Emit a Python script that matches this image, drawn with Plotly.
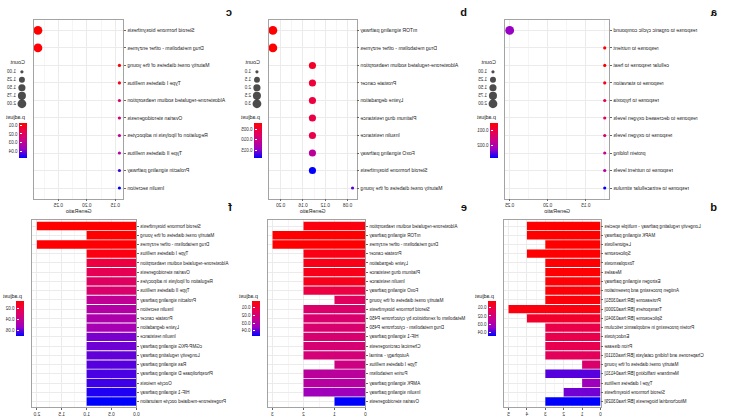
import plotly.graph_objects as go

W, H = 732, 417
FONT = "Liberation Sans, Arial, sans-serif"

# ---------------- data ----------------
a_terms = ["response to organic cyclic compound", "response to nutrient", "cellular response to heat",
           "response to starvation", "response to hypoxia", "response to decreased oxygen levels",
           "response to oxygen levels", "protein folding", "response to nutrient levels",
           "response to extracellular stimulus"]
a_ratio = [0.25, 0.125, 0.125, 0.125, 0.125, 0.125, 0.125, 0.125, 0.125, 0.125]
a_count = [2, 1, 1, 1, 1, 1, 1, 1, 1, 1]
a_padj = [0.00223, 0.0005, 0.0005, 0.0007, 0.00108, 0.0012, 0.00142, 0.00165, 0.00188, 0.0028]

b_terms = ["mTOR signaling pathway", "Drug metabolism - other enzymes",
           "Aldosterone-regulated sodium reabsorption", "Prostate cancer", "Lysine degradation",
           "Platinum drug resistance", "Insulin resistance", "FoxO signaling pathway",
           "Steroid hormone biosynthesis", "Maturity onset diabetes of the young"]
b_ratio = [0.214, 0.214, 0.143, 0.143, 0.143, 0.143, 0.143, 0.143, 0.143, 0.071]
b_count = [3, 3, 2, 2, 2, 2, 2, 2, 2, 1]
b_padj = [0.0020, 0.0020, 0.0040, 0.0050, 0.0053, 0.0056, 0.0060, 0.0115, 0.0185, 0.0160]

c_terms = ["Steroid hormone biosynthesis", "Drug metabolism - other enzymes",
           "Maturity onset diabetes of the young", "Type I diabetes mellitus",
           "Aldosterone-regulated sodium reabsorption", "Ovarian steroidogenesis",
           "Regulation of lipolysis in adipocytes", "Type II diabetes mellitus",
           "Prolactin signaling pathway", "Insulin secretion"]
c_ratio = [0.2857, 0.2857, 0.1429, 0.1429, 0.1429, 0.1429, 0.1429, 0.1429, 0.1429, 0.1429]
c_count = [2, 2, 1, 1, 1, 1, 1, 1, 1, 1]
c_padj = [0.0073, 0.0079, 0.0076, 0.0105, 0.0200, 0.0245, 0.0283, 0.0309, 0.0423, 0.0468]

d_terms = ["Longevity regulating pathway - multiple species", "MAPK signaling pathway",
           "Legionellosis", "Spliceosome", "Toxoplasmosis", "Measles",
           "Estrogen signaling pathway", "Antigen processing and presentation",
           "Proteasome [BR:hsa03051]", "Transporters [BR:hsa02000]",
           "Spliceosome [BR:hsa03041]", "Protein processing in endoplasmic reticulum",
           "Endocytosis", "Prion disease", "Chaperones and folding catalysts [BR:hsa03110]",
           "Maturity onset diabetes of the young", "Membrane trafficking [BR:hsa04131]",
           "Type I diabetes mellitus", "Steroid hormone biosynthesis",
           "Mitochondrial biogenesis [BR:hsa03029]"]
d_count = [4, 4, 3, 4, 3, 3, 3, 3, 3, 5, 4, 3, 3, 3, 3, 1, 3, 1, 2, 3]
d_padj = [0.0020, 0.0020, 0.0022, 0.0023, 0.0025, 0.0026, 0.0027, 0.0030, 0.0032, 0.0040,
          0.0080, 0.0120, 0.0125, 0.0130, 0.0150, 0.0180, 0.0390, 0.0330, 0.0370, 0.0450]

e_terms = ["Aldosterone-regulated sodium reabsorption", "mTOR signaling pathway",
           "Drug metabolism - other enzymes", "Prostate cancer", "Lysine degradation",
           "Platinum drug resistance", "Insulin resistance", "FoxO signaling pathway",
           "Maturity onset diabetes of the young", "Steroid hormone biosynthesis",
           "Metabolism of xenobiotics by cytochrome P450", "Drug metabolism - cytochrome P450",
           "HIF-1 signaling pathway", "Chemical carcinogenesis", "Autophagy - animal",
           "Type I diabetes mellitus", "Purine metabolism", "AMPK signaling pathway",
           "Insulin signaling pathway", "Ovarian steroidogenesis"]
e_count = [2, 3, 3, 2, 2, 2, 2, 2, 1, 2, 2, 2, 2, 2, 2, 1, 2, 2, 2, 1]
e_padj = [0.0040, 0.0020, 0.0020, 0.0050, 0.0053, 0.0056, 0.0060, 0.0115, 0.0160, 0.0185,
          0.0190, 0.0190, 0.0195, 0.0200, 0.0210, 0.0230, 0.0280, 0.0290, 0.0340, 0.0470]

f_terms = ["Steroid hormone biosynthesis", "Maturity onset diabetes of the young",
           "Drug metabolism - other enzymes", "Type I diabetes mellitus",
           "Aldosterone-regulated sodium reabsorption", "Ovarian steroidogenesis",
           "Regulation of lipolysis in adipocytes", "Type II diabetes mellitus",
           "Prolactin signaling pathway", "Insulin secretion", "Prostate cancer",
           "Lysine degradation", "Insulin resistance", "cGMP-PKG signaling pathway",
           "Longevity regulating pathway", "Ras signaling pathway",
           "Phospholipase D signaling pathway", "Oocyte meiosis", "HIF-1 signaling pathway",
           "Progesterone-mediated oocyte maturation"]
f_count = [2, 1, 2, 1, 1, 1, 1, 1, 1, 1, 1, 1, 1, 1, 1, 1, 1, 1, 1, 1]
f_padj = [0.0073, 0.0076, 0.0079, 0.0105, 0.0200, 0.0245, 0.0283, 0.0309, 0.0423, 0.0468,
          0.0487, 0.0506, 0.0583, 0.0595, 0.0608, 0.0621, 0.0634, 0.0646, 0.0678, 0.0710]

# colourbar ticks (value, label)
a_cb_vals, a_cb_text = [0.001, 0.002], ["0.001", "0.002"]
b_cb_vals, b_cb_text = [0.005, 0.010, 0.015], ["0.005", "0.010", "0.015"]
c_cb_vals, c_cb_text = [0.01, 0.02, 0.03, 0.04], ["0.01", "0.02", "0.03", "0.04"]
d_cb_vals, d_cb_text = [0.01, 0.02, 0.03, 0.04], ["0.01", "0.02", "0.03", "0.04"]
e_cb_vals, e_cb_text = [0.01, 0.02, 0.03, 0.04], ["0.01", "0.02", "0.03", "0.04"]
f_cb_vals, f_cb_text = [0.02, 0.04, 0.06], ["0.02", "0.04", "0.06"]

# size-legend breaks
ac_size_breaks = [1.00, 1.25, 1.50, 1.75, 2.00]
ac_size_text = ["1.00", "1.25", "1.50", "1.75", "2.00"]
b_size_breaks = [1.0, 1.5, 2.0, 2.5, 3.0]
b_size_text = ["1.0", "1.5", "2.0", "2.5", "3.0"]

panel_letters = ["a", "b", "c", "d", "e", "f"]

# ---------------- styling ----------------
RB = [[0.0, "#0000FF"], [0.25, "#9900C2"], [0.5, "#C90089"], [0.75, "#E8004F"], [1.0, "#FF0000"]]
SMIN, SMAX = 3.2, 8.8


def dom_x(l, r):
    return [max(0, l / W), min(1, r / W)]


def dom_y(t, b):
    return [1 - b / H, 1 - t / H]


def size_of(v, lo, hi):
    return SMIN + ((v - lo) / (hi - lo)) ** 0.5 * (SMAX - SMIN)


axis_common = dict(showline=True, mirror=True, linecolor="#a3a3a3", linewidth=0.8,
                   ticks="outside", ticklen=2, tickwidth=0.6, tickcolor="#666",
                   showgrid=True, gridcolor="#ebebeb", gridwidth=0.6, zeroline=False,
                   tickfont=dict(size=4.8, color="#333", family=FONT))

fig = go.Figure()
layout = dict(width=W, height=H, margin=dict(l=0, r=0, t=0, b=0),
              paper_bgcolor="white", plot_bgcolor="white", showlegend=False,
              bargap=0.1, font=dict(family=FONT, color="#222"))
annotations = []

TOP = (20, 199)
BOT = (221, 408)

dot_panels = [
    dict(terms=a_terms, ratio=a_ratio, count=a_count, padj=a_padj, x=(120, 225),
         dtick=0.05, cbv=a_cb_vals, cbt=a_cb_text, sb=ac_size_breaks, st=ac_size_text, leg=232),
    dict(terms=b_terms, ratio=b_ratio, count=b_count, padj=b_padj, x=(374, 462),
         dtick=0.04, cbv=b_cb_vals, cbt=b_cb_text, sb=b_size_breaks, st=b_size_text, leg=469),
    dict(terms=c_terms, ratio=c_ratio, count=c_count, padj=c_padj, x=(608, 698),
         dtick=0.05, cbv=c_cb_vals, cbt=c_cb_text, sb=ac_size_breaks, st=ac_size_text, leg=705),
]
bar_panels = [
    dict(terms=d_terms, count=d_count, padj=d_padj, x=(129, 226), dtick=1, fmt="d",
         cbv=d_cb_vals, cbt=d_cb_text, leg=234),
    dict(terms=e_terms, count=e_count, padj=e_padj, x=(365, 463), dtick=1, fmt="d",
         cbv=e_cb_vals, cbt=e_cb_text, leg=471),
    dict(terms=f_terms, count=f_count, padj=f_padj, x=(595, 700), dtick=0.5, fmt=".1f",
         cbv=f_cb_vals, cbt=f_cb_text, leg=708),
]


def colorbar(p, left, top, bottom):
    return dict(colorscale=RB, cmin=-max(p["padj"]), cmax=-min(p["padj"]),
                colorbar=dict(x=left / W, xanchor="left", y=1 - (top + bottom) / 2 / H,
                              yanchor="middle", len=(bottom - top) / H, lenmode="fraction",
                              thickness=8, thicknessmode="pixels", outlinewidth=0,
                              xpad=0, ypad=0, tickmode="array",
                              tickvals=[-v for v in p["cbv"]], ticktext=p["cbt"],
                              ticks="inside", ticklen=2, tickcolor="white", tickwidth=0.6,
                              tickfont=dict(size=4.6, color="#333", family=FONT)))


def note(text, x, y, size, **kw):
    annotations.append(dict(text=text, x=x / W, y=1 - y / H, xref="paper", yref="paper",
                            showarrow=False, xanchor=kw.get("xanchor", "left"),
                            yanchor=kw.get("yanchor", "middle"),
                            font=dict(size=size, color=kw.get("color", "#222"), family=FONT)))


# ---- dot plots ----
for i, p in enumerate(dot_panels):
    k = i + 1
    sfx = "" if k == 1 else str(k)
    n = len(p["terms"])
    lo, hi = min(p["ratio"]), max(p["ratio"])
    pad = (hi - lo) * 0.05
    cmin, cmax = min(p["count"]), max(p["count"])
    fig.add_trace(go.Scatter(
        x=p["ratio"], y=p["terms"], mode="markers", xaxis="x" + sfx, yaxis="y" + sfx,
        marker=dict(size=[size_of(c, cmin, cmax) for c in p["count"]],
                    color=[-v for v in p["padj"]], coloraxis="coloraxis" + sfx,
                    line=dict(width=0), opacity=1)))
    layout["xaxis" + sfx] = dict(axis_common, domain=dom_x(*p["x"]), anchor="y" + sfx,
                                 range=[lo - pad, hi + pad], tickmode="linear", tick0=0,
                                 dtick=p["dtick"], tickformat=".2f",
                                 minor=dict(showgrid=True, gridcolor="#f5f5f5", gridwidth=0.5,
                                            dtick=p["dtick"] / 2, tick0=0),
                                 title=dict(text="GeneRatio", standoff=1,
                                            font=dict(size=5.4, color="#222", family=FONT)))
    layout["yaxis" + sfx] = dict(axis_common, domain=dom_y(*TOP), anchor="x" + sfx,
                                 type="category", categoryorder="array",
                                 categoryarray=p["terms"], range=[n - 0.4, -0.6],
                                 tickfont=dict(size=5.1, color="#222", family=FONT))
    layout["coloraxis" + sfx] = colorbar(p, p["leg"], 123, 158)
    note("p.adjust", p["leg"], 117, 5.4)
    note("Count", p["leg"], 62, 5.4)
    # size legend on an auxiliary axis (10 px per unit; keys at 0.5, labels from 1.1)
    lk = k + 6
    lsfx = str(lk)
    sb = p["sb"]
    fig.add_trace(go.Scatter(
        x=[0.5] * len(sb), y=list(range(len(sb))), mode="markers", xaxis="x" + lsfx,
        yaxis="y" + lsfx, cliponaxis=False,
        marker=dict(size=[size_of(v, sb[0], sb[-1]) for v in sb], color="#000000",
                    line=dict(width=0))))
    fig.add_trace(go.Scatter(
        x=[1.1] * len(sb), y=list(range(len(sb))), mode="text", text=p["st"],
        textposition="middle right", xaxis="x" + lsfx, yaxis="y" + lsfx, cliponaxis=False,
        textfont=dict(size=4.6, color="#333", family=FONT)))
    hide = dict(visible=False, fixedrange=True)
    layout["xaxis" + lsfx] = dict(hide, domain=dom_x(p["leg"], p["leg"] + 25), range=[0, 2.5],
                                  anchor="y" + lsfx)
    layout["yaxis" + lsfx] = dict(hide, domain=dom_y(68, 108),
                                  range=[len(sb) - 0.5, -0.5], anchor="x" + lsfx)

# ---- bar plots ----
for i, p in enumerate(bar_panels):
    k = i + 4
    sfx = str(k)
    n = len(p["terms"])
    mx = max(p["count"])
    fig.add_trace(go.Bar(
        x=p["count"], y=p["terms"], orientation="h", xaxis="x" + sfx, yaxis="y" + sfx,
        marker=dict(color=[-v for v in p["padj"]], coloraxis="coloraxis" + sfx,
                    line=dict(width=0))))
    layout["xaxis" + sfx] = dict(axis_common, domain=dom_x(*p["x"]), anchor="y" + sfx,
                                 range=[0, mx * 1.05], tickmode="linear", tick0=0,
                                 dtick=p["dtick"], tickformat=p["fmt"],
                                 minor=dict(showgrid=True, gridcolor="#f5f5f5", gridwidth=0.5,
                                            dtick=p["dtick"] / 2, tick0=0))
    layout["yaxis" + sfx] = dict(axis_common, domain=dom_y(*BOT), anchor="x" + sfx,
                                 type="category", categoryorder="array",
                                 categoryarray=p["terms"], range=[n - 0.4, -0.6],
                                 tickfont=dict(size=4.6, color="#222", family=FONT))
    layout["coloraxis" + sfx] = colorbar(p, p["leg"], 302, 337)
    note("p.adjust", p["leg"], 297, 5.4)

# panel letters
letter_pos = [(10, 12), (261, 12), (497, 12), (10, 207), (261, 207), (497, 207)]
for t, (x, y) in zip(panel_letters, letter_pos):
    note("<b>" + t + "</b>", x, y, 11, color="#111")

layout["annotations"] = annotations
fig.update_layout(**layout)

post = ("document.body.style.margin='0';"
        "var gd=document.getElementById('{plot_id}');"
        "gd.style.transformOrigin='50% 50%';gd.style.transform='scaleX(-1)';")
fig.write_html("out.html", post_script=post, config={"displayModeBar": False})
